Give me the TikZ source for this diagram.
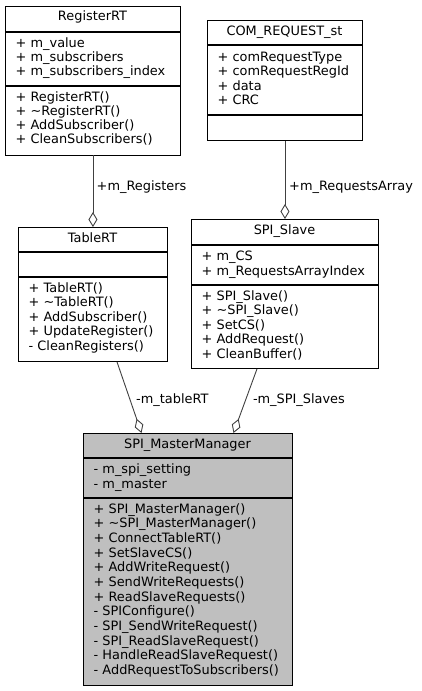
\documentclass[tikz,border=0pt]{standalone}
\usepackage{fontspec}
\setmainfont{DejaVu Sans}
\usetikzlibrary{arrows.meta,calc}
\definecolor{edgec}{HTML}{404040}
\definecolor{mmfill}{HTML}{BFBFBF}
\newcommand\classrows[5]{%
  \foreach \t [count=\i] in {#5} \node[txt] (#1\i) at (#2, {#3+(\i-1)*#4}) {\t};}
\begin{document}
\begin{tikzpicture}[x=1pt,y=-1pt,
  every node/.style={font=\fontsize{12.9}{14.5}\selectfont},
  txt/.style={anchor=base west, inner sep=0pt},
  ttl/.style={anchor=base, inner sep=0pt},
  classbox/.style={draw=black, line width=0.9pt, inner sep=0pt, anchor=north west},
  sepline/.style={draw=black, line width=1.3pt},
  agg/.style={draw=edgec, line width=0.9pt, {Diamond[open,length=15pt,width=9pt]}-},
  lbl/.style={anchor=base west, inner sep=0pt}]
\useasboundingbox (0,0) rectangle (421,691);

% RegisterRT
\node[classbox, minimum width=175pt, minimum height=149pt] (reg) at (5,5.5) {};
\draw[sepline] (5,32) -- (180,32);
\draw[sepline] (5,86) -- (180,86);
\node[ttl] (regt) at (92.5,20.5) {RegisterRT};
\classrows{rega}{15.5}{47}{14.25}{+ m\_value,+ m\_subscribers,+ m\_subscribers\_index}
\classrows{regm}{15.5}{101}{14.33}{+ RegisterRT(),+ \textasciitilde RegisterRT(),+ AddSubscriber(),+ CleanSubscribers()}

% COM_REQUEST_st
\node[classbox, minimum width=155pt, minimum height=120pt] (com) at (207,20) {};
\draw[sepline] (207,45) -- (362,45);
\draw[sepline] (207,115) -- (362,115);
\node[ttl] (comt) at (284.5,35.5) {COM\_REQUEST\_st};
\classrows{coma}{217.5}{61}{14.6}{+ comRequestType,+ comRequestRegId,+ data,+ CRC}

% TableRT
\node[classbox, minimum width=149pt, minimum height=134pt] (tab) at (18,227) {};
\draw[sepline] (18,252) -- (167,252);
\draw[sepline] (18,277) -- (167,277);
\node[ttl] (tabt) at (92.5,242.5) {TableRT};
\classrows{tabm}{28.5}{292}{14.625}{+ TableRT(),+ \textasciitilde TableRT(),+ AddSubscriber(),+ UpdateRegister(),- CleanRegisters()}

% SPI_Slave
\node[classbox, minimum width=187pt, minimum height=149pt] (slave) at (191,219) {};
\draw[sepline] (191,245) -- (378,245);
\draw[sepline] (191,285) -- (378,285);
\node[ttl] (slavet) at (284.5,234.5) {SPI\_Slave};
\classrows{slavea}{201.5}{260.5}{14.5}{+ m\_CS,+ m\_RequestsArrayIndex}
\classrows{slavem}{201.5}{300.5}{14.4}{+ SPI\_Slave(),+ \textasciitilde SPI\_Slave(),+ SetCS(),+ AddRequest(),+ CleanBuffer()}

% SPI_MasterManager
\node[classbox, fill=mmfill, minimum width=209pt, minimum height=252pt] (mm) at (83,433) {};
\draw[sepline] (83,458) -- (292,458);
\draw[sepline] (83,498) -- (292,498);
\node[ttl] (mmt) at (187.5,448.5) {SPI\_MasterManager};
\classrows{mma}{93.5}{473.5}{14.5}{- m\_spi\_setting,- m\_master}
\classrows{mmm}{93.5}{513}{14.68}{+ SPI\_MasterManager(),+ \textasciitilde SPI\_MasterManager(),+ ConnectTableRT(),+ SetSlaveCS(),+ AddWriteRequest(),+ SendWriteRequests(),+ ReadSlaveRequests(),- SPIConfigure(),- SPI\_SendWriteRequest(),- SPI\_ReadSlaveRequest(),- HandleReadSlaveRequest(),- AddRequestToSubscribers()}

% connectors (diamond at the owning class)
\draw[agg] (tab.north) -- (reg.south);
\draw[agg] (slave.north) -- (com.south);
\draw[agg] ($(mm.north west)+(58.5,0)$) -- ($(tab.south west)+(99,0)$);
\draw[agg] ($(mm.north west)+(150.5,0)$) -- ($(slave.south west)+(66,0)$);

% labels
\node[lbl] (l1) at (96.5,190.5) {+m\_Registers};
\node[lbl] (l2) at (289,190.5) {+m\_RequestsArray};
\node[lbl] (l3) at (136,403) {-m\_tableRT};
\node[lbl] (l4) at (252.8,403) {-m\_SPI\_Slaves};
\end{tikzpicture}
\end{document}
